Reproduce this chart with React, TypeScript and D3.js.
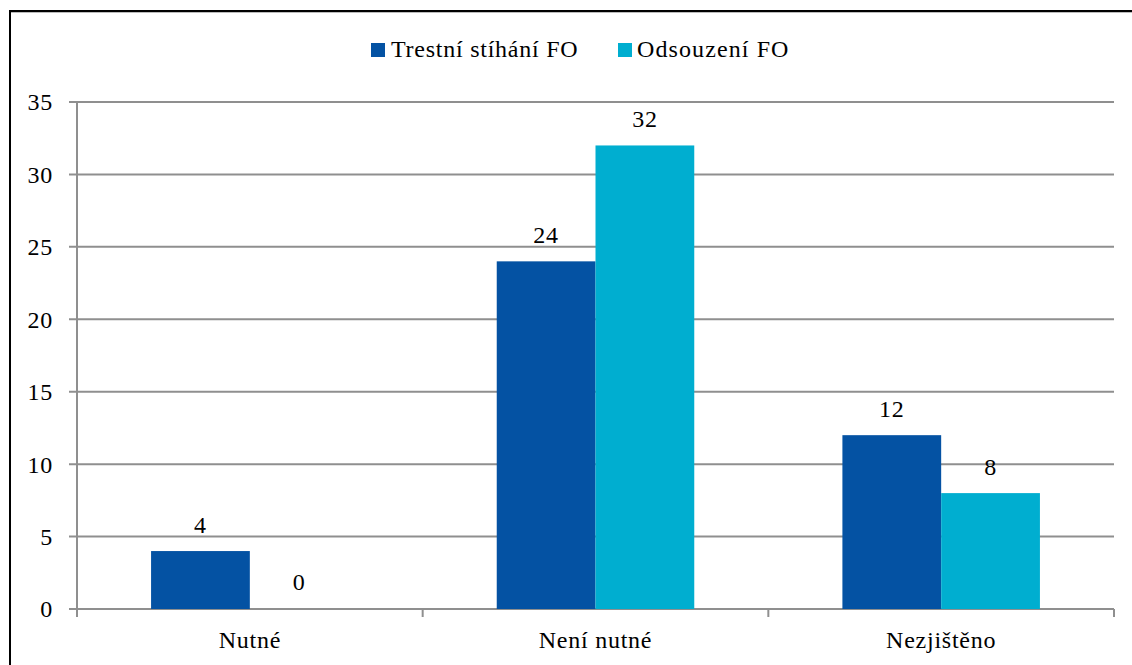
import React from "react";
import * as d3 from "d3";

const categories = ["Nutné", "Není nutné", "Nezjištěno"];
const seriesNames = ["Trestní stíhání FO", "Odsouzení FO"];
const trestniStihani = [4, 24, 12];
const odsouzeni = [0, 32, 8];
const yTicks = [0, 5, 10, 15, 20, 25, 30, 35];
const seriesColors = ["#0452A3", "#00AED0"];

const W = 1132;
const H = 665;
const plot = { left: 77, right: 1114, top: 102, bottom: 609 };
const FONT = "Liberation Serif";

export default function App() {
  const series = [trestniStihani, odsouzeni];

  const x = d3
    .scaleBand<string>()
    .domain(categories)
    .range([plot.left, plot.right])
    .paddingInner(0)
    .paddingOuter(0);

  // Two bars per category with a 150% gap between clusters
  const inner = d3
    .scaleBand<number>()
    .domain([0, 1])
    .range([0, x.bandwidth()])
    .paddingInner(0)
    .paddingOuter(0.75);

  const y = d3.scaleLinear().domain([0, 35]).range([plot.bottom, plot.top]);

  const grid = "#8f8f8f";
  const catEdges = [...categories.map((c) => x(c)!), plot.right];
  const textStyle = { fontFamily: FONT, fontSize: 24, letterSpacing: 0.75 };

  return (
    <svg
      width={W}
      height={H}
      style={{ position: "absolute", left: 0, top: 0, background: "#fff" }}
    >
      {/* chart frame */}
      <rect x={10} y={11} width={W + 20} height={H + 20} fill="none" stroke="#000" strokeWidth={2} />
      <line x1={11} x2={W} y1={12.5} y2={12.5} stroke="#bbb" strokeWidth={1} />

      {/* horizontal gridlines and y ticks */}
      {yTicks.map((t) => (
        <g key={t}>
          <line x1={plot.left - 8} x2={plot.right} y1={y(t)} y2={y(t)} stroke={grid} strokeWidth={2} />
          <text x={53} y={y(t)} dy="0.35em" textAnchor="end" style={textStyle} fill="#000">
            {t}
          </text>
        </g>
      ))}

      {/* vertical axis */}
      <line x1={plot.left} x2={plot.left} y1={plot.top} y2={plot.bottom + 8} stroke={grid} strokeWidth={2} />

      {/* category tick marks */}
      {catEdges.map((e, i) => (
        <line key={i} x1={e} x2={e} y1={plot.bottom} y2={plot.bottom + 8} stroke={grid} strokeWidth={2} />
      ))}

      {/* bars */}
      {categories.map((c, ci) =>
        series.map((vals, si) => {
          const bx = x(c)! + inner(si)!;
          const v = vals[ci];
          return (
            <g key={`${c}-${si}`}>
              {v > 0 && (
                <rect
                  x={bx}
                  y={y(v)}
                  width={inner.bandwidth()}
                  height={y(0) - y(v)}
                  fill={seriesColors[si]}
                />
              )}
              <text
                x={bx + inner.bandwidth() / 2}
                y={y(v) - (v > 0 ? 18 : 19)}
                textAnchor="middle"
                style={textStyle}
                fill="#000"
              >
                {v}
              </text>
            </g>
          );
        })
      )}

      {/* category labels */}
      {categories.map((c) => (
        <text key={c} x={x(c)! + x.bandwidth() / 2} y={plot.bottom + 39} textAnchor="middle" style={textStyle} fill="#000">
          {c}
        </text>
      ))}

      {/* legend */}
      <g>
        <rect x={371} y={43} width={14} height={14} fill={seriesColors[0]} />
        <text x={391} y={57} style={textStyle} fill="#000">
          {seriesNames[0]}
        </text>
        <rect x={618} y={43} width={14} height={14} fill={seriesColors[1]} />
        <text x={637} y={57} style={{ ...textStyle, letterSpacing: 1.1 }} fill="#000">
          {seriesNames[1]}
        </text>
      </g>
    </svg>
  );
}
